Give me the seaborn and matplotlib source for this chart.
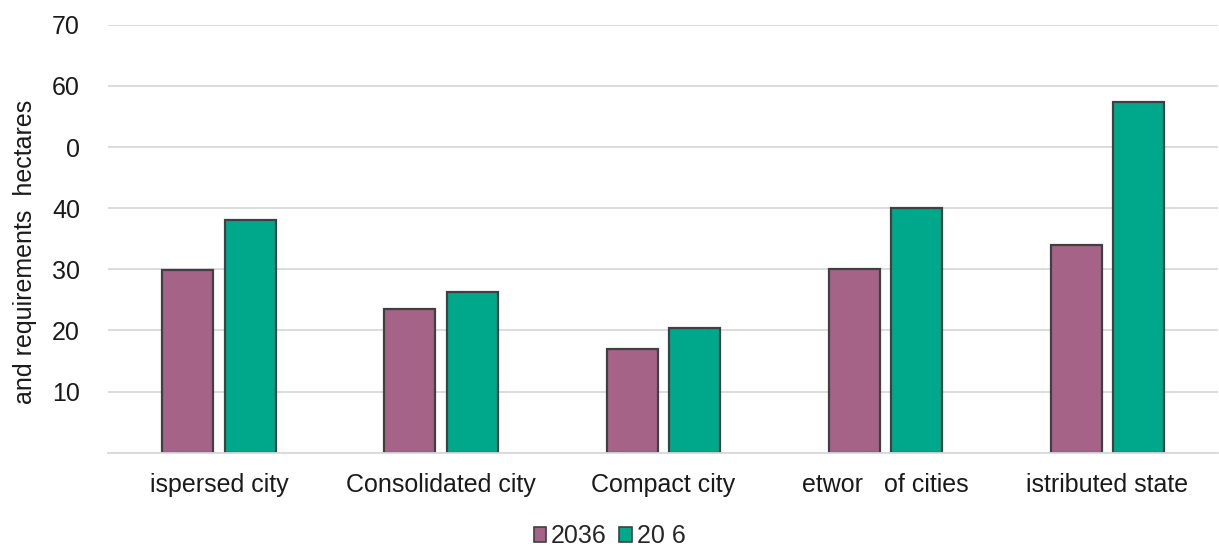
import matplotlib
matplotlib.use("Agg")
import matplotlib.pyplot as plt
import seaborn as sns
import pandas as pd

categories = ["ispersed city", "Consolidated city", "Compact city", "etwor   of cities", "istributed state"]
series_names = ["2036", "20 6"]
values_2036 = [29.9, 23.5, 17.0, 30.1, 34.0]
values_2046 = [38.1, 26.2, 20.4, 40.1, 57.4]
ytick_values = [10, 20, 30, 40, 50, 60, 70]
ytick_labels = ["10", "20", "30", "40", "0", "60", "70"]
ylabel_text = "and requirements  hectares"

df = pd.DataFrame({
    "category": categories * 2,
    "series": [series_names[0]] * len(categories) + [series_names[1]] * len(categories),
    "value": values_2036 + values_2046,
})

sns.set_theme(style="white")
plt.rcParams["font.family"] = ["Liberation Sans", "DejaVu Sans"]

fig = plt.figure(figsize=(12.19, 5.5), dpi=100)
ax = fig.add_axes([0.0885, 0.177, 0.911, 0.778])

palette = {series_names[0]: "#A66388", series_names[1]: "#00A88B"}
sns.barplot(data=df, x="category", y="value", hue="series", order=categories,
            hue_order=series_names, palette=palette, width=0.56, gap=0.18,
            edgecolor="#404040", linewidth=1.6, saturation=1, ax=ax)

ax.set_ylim(0, 70)
ax.set_xlim(-0.5, len(categories) - 0.5)
ax.set_yticks([0] + ytick_values)
ax.set_yticklabels([""] + ytick_labels)
ax.yaxis.grid(True, color="#D9D9D9", linewidth=1.3)
ax.set_axisbelow(True)
for s in ["top", "right", "left"]:
    ax.spines[s].set_visible(False)
ax.spines["bottom"].set_color("#D9D9D9")
ax.spines["bottom"].set_linewidth(1.3)
ax.tick_params(axis="both", length=0, labelsize=18, colors="#1a1a1a")
ax.tick_params(axis="y", pad=20)
ax.tick_params(axis="x", pad=15)
ax.set_xlabel("")
ax.set_ylabel(ylabel_text, fontsize=18, color="#1a1a1a")
ax.yaxis.set_label_coords(-0.064, 0.47)

ax.get_legend().remove()
handles, labels = ax.get_legend_handles_labels()
leg = fig.legend(handles, labels, loc="center", bbox_to_anchor=(0.5, 0.025), ncol=2,
                 frameon=False, fontsize=18, handlelength=0.5, handleheight=0.5,
                 handletextpad=0.2, columnspacing=0.5, borderpad=0)
for h in leg.legend_handles:
    h.set_edgecolor("#404040")
    h.set_linewidth(1.2)

fig.savefig("out.png", dpi=100)
